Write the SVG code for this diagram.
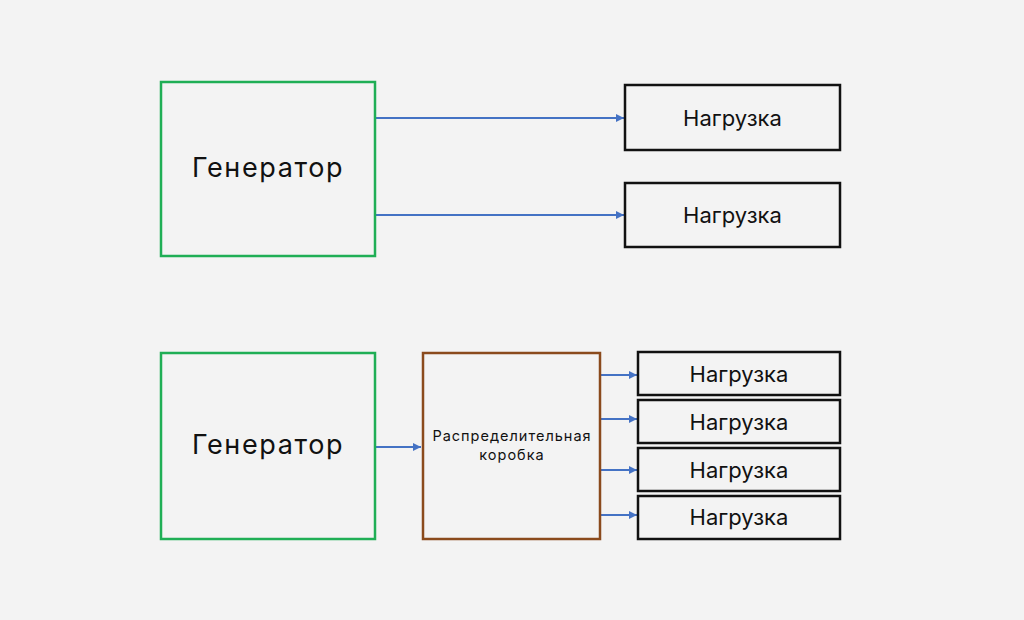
<svg xmlns="http://www.w3.org/2000/svg" width="1024" height="620" viewBox="0 0 1024 620">
<defs>
<style>
.gen{fill:none;stroke:#1fae55;stroke-width:2.5}
.load{fill:none;stroke:#111;stroke-width:2.5}
.box{fill:none;stroke:#8a4a1c;stroke-width:2.5}
.t{font-family:Inter,"Liberation Sans",sans-serif;fill:#111;text-anchor:middle}
.g{font-size:27px;letter-spacing:1.6px}
.l{font-size:22px}
.b{font-size:14.5px;letter-spacing:1px}
.c{stroke:#4472c4;stroke-width:2;fill:none;marker-end:url(#ah)}
</style>
<marker id="ah" viewBox="0 0 10 10" refX="10" refY="5" markerWidth="4" markerHeight="4" orient="auto" markerUnits="strokeWidth">
<path d="M0,0 L10,5 L0,10 z" fill="#4472c4"/>
</marker>
</defs>
<rect width="1024" height="620" fill="#f3f3f3"/>
<g id="connectors">
<line class="c" x1="376" y1="118" x2="624" y2="118"/>
<line class="c" x1="376" y1="215" x2="624" y2="215"/>
<line class="c" x1="376" y1="447" x2="421" y2="447"/>
<line class="c" x1="601" y1="375" x2="637" y2="375"/>
<line class="c" x1="601" y1="419" x2="637" y2="419"/>
<line class="c" x1="601" y1="470" x2="637" y2="470"/>
<line class="c" x1="601" y1="515" x2="637" y2="515"/>
</g>
<g id="gen1"><rect class="gen" x="161" y="82" width="214" height="174"/><text class="t g" x="268" y="177">Генератор</text></g>
<g id="load1"><rect class="load" x="625" y="85" width="215" height="65"/><text class="t l" x="732.5" y="126">Нагрузка</text></g>
<g id="load2"><rect class="load" x="625" y="183" width="215" height="64"/><text class="t l" x="732.5" y="223">Нагрузка</text></g>
<g id="gen2"><rect class="gen" x="161" y="353" width="214" height="186"/><text class="t g" x="268" y="454">Генератор</text></g>
<g id="box"><rect class="box" x="423" y="353" width="177" height="186"/><text class="t b" x="512" y="441">Распределительная</text><text class="t b" x="512" y="460">коробка</text></g>
<g id="load3"><rect class="load" x="638" y="352" width="202" height="43"/><text class="t l" x="739" y="382">Нагрузка</text></g>
<g id="load4"><rect class="load" x="638" y="400" width="202" height="43"/><text class="t l" x="739" y="430">Нагрузка</text></g>
<g id="load5"><rect class="load" x="638" y="448" width="202" height="43"/><text class="t l" x="739" y="478">Нагрузка</text></g>
<g id="load6"><rect class="load" x="638" y="496" width="202" height="43"/><text class="t l" x="739" y="525">Нагрузка</text></g>
</svg>
